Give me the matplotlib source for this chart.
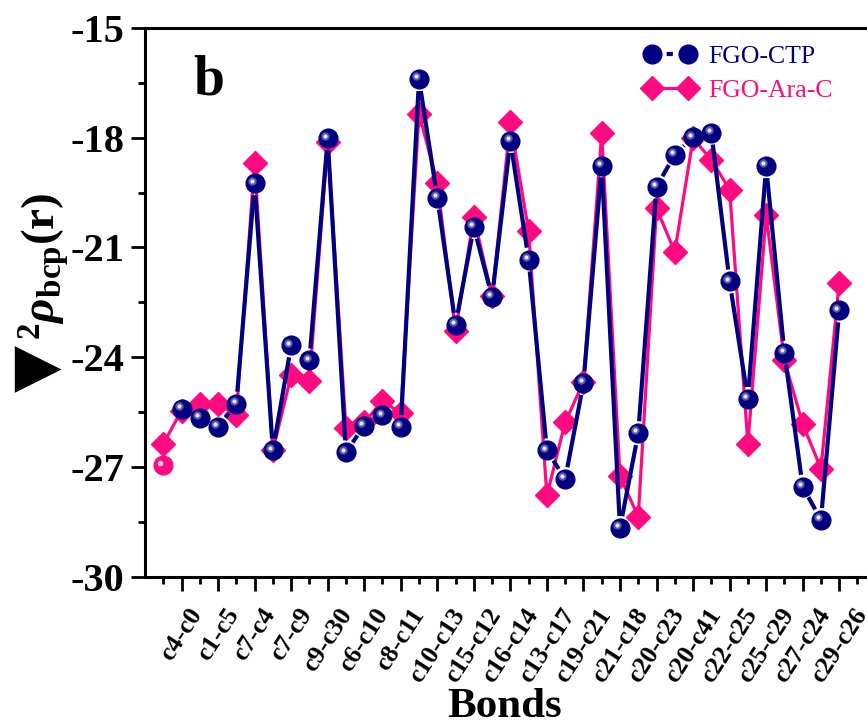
import numpy as np
import matplotlib.pyplot as plt
from matplotlib.transforms import ScaledTranslation
from matplotlib.lines import Line2D

# bond labels (every second point carries a label)
bonds = ['c4-c0', 'c1-c5', 'c7-c4', 'c7-c9', 'c9-c30', 'c6-c10', 'c8-c11',
         'c10-c13', 'c15-c12', 'c16-c14', 'c13-c17', 'c19-c21', 'c21-c18',
         'c20-c23', 'c20-c41', 'c22-c25', 'c25-c29', 'c27-c24', 'c29-c26']

# laplacian of rho at bcp
ctp = [-26.96, -25.41, -25.66, -25.91, -25.27, -19.25, -26.55, -23.68, -24.09, -18.02,
       -26.60, -25.87, -25.59, -25.91, -16.40, -19.64, -23.11, -20.44, -22.36, -18.09,
       -21.33, -26.55, -27.33, -24.71, -18.76, -28.67, -26.08, -19.34, -18.46, -17.99,
       -17.86, -21.93, -25.14, -18.78, -23.88, -27.54, -28.45, -22.72]
arac = [-26.37, -25.46, -25.27, -25.27, -25.59, -18.68, -26.55, -24.50, -24.65, -18.13,
        -25.94, -25.78, -25.20, -25.53, -17.34, -19.23, -23.28, -20.16, -22.34, -17.58,
        -20.55, -27.78, -25.78, -24.68, -17.88, -27.26, -28.36, -19.93, -21.12, -18.02,
        -18.60, -19.42, -26.37, -20.12, -24.09, -25.82, -27.05, -21.96]

navy = '#000080'
pink = '#FF0A80'

plt.rcParams['font.family'] = ['Liberation Serif', 'DejaVu Sans']
plt.rcParams['font.weight'] = 'bold'
plt.rcParams['mathtext.fontset'] = 'custom'
plt.rcParams['mathtext.rm'] = 'Liberation Serif'
plt.rcParams['mathtext.bf'] = 'Liberation Serif:bold'
plt.rcParams['mathtext.it'] = 'Liberation Serif:italic'
plt.rcParams['mathtext.bfit'] = 'Liberation Serif:italic:bold'

fig = plt.figure(figsize=(8.67, 7.25), dpi=100)
ax = fig.add_axes([0.1672, 0.2046, 0.8429, 0.7568])

x = np.arange(1, len(ctp) + 1)

ax.set_xlim(0, 40)
ax.set_ylim(-30, -15)

ax.plot(x, arac, color=pink, lw=2.3, marker='D', ms=12.5, mec=pink, zorder=2)

# CTP line is drawn with a gap around each symbol (as in the original)
gap = 12
pts = ax.transData.transform(np.column_stack([x, ctp]))
inv = ax.transData.inverted()
for k in range(1, len(x) - 1):
    p, q = pts[k], pts[k + 1]
    d = q - p
    L = np.hypot(d[0], d[1])
    if L > 2 * gap:
        u = d / L
        seg = inv.transform(np.array([p + gap * u, q - gap * u]))
        ax.plot(seg[:, 0], seg[:, 1], color=navy, lw=3, solid_capstyle='butt', zorder=3)

ax.plot(x[1:], ctp[1:], ls='none', marker='o', ms=13.5, color=navy, zorder=3)
ax.plot(x[:1], ctp[:1], ls='none', marker='o', ms=13.5, color=pink, zorder=3)

# small highlight to give the balls a shaded look
shift = ax.transData + ScaledTranslation(-2 / 72, 2 / 72, fig.dpi_scale_trans)
ax.plot(x[1:], ctp[1:], ls='none', marker='o', ms=6, color='#5a5aa8', mew=0,
        transform=shift, zorder=4)
ax.plot(x[1:], ctp[1:], ls='none', marker='o', ms=3, color='#e8e8ff', mew=0,
        transform=shift, zorder=5)
ax.plot(x[:1], ctp[:1], ls='none', marker='o', ms=4, color='#ffd0e6', mew=0,
        transform=shift, zorder=5)

ax.set_yticks(np.arange(-30, -14, 3))
ax.set_yticks(np.arange(-28.5, -15, 3), minor=True)
ax.set_xticks(np.arange(2, 2 * len(bonds) + 1, 2))
ax.set_xticklabels(bonds, rotation=57, ha='center', va='top', fontsize=18.5,
                   fontweight='bold')
ax.set_xticks(np.arange(1, 40, 2), minor=True)
ax.set_yticklabels([str(v) for v in range(-30, -14, 3)], fontsize=29,
                   fontweight='bold')
ax.tick_params(axis='y', which='major', length=10, width=2, pad=5)
ax.tick_params(axis='y', which='minor', length=5, width=2)
ax.tick_params(axis='x', which='major', length=10, width=2, pad=10)
ax.tick_params(axis='x', which='minor', length=5, width=2)
for s in ax.spines.values():
    s.set_linewidth(2.2)

fig.text(505 / 867, 8 / 725, 'Bonds', fontsize=31, fontweight='bold',
         ha='center', va='baseline')

fig.text(38 / 867, 1 - 368 / 725, '\u25bc', rotation=90, fontsize=44,
         family='DejaVu Sans', ha='center', va='center')
fig.text(44 / 867, 1 - 266 / 725,
         r'$^{\mathbf{2}}\mathbfit{\rho}_{\mathbf{bcp}}\mathbf{(r)}$',
         rotation=90, fontsize=34, ha='center', va='center')

ax.text(0.087, 0.905, 'b', transform=ax.transAxes, fontsize=40, fontweight='bold',
        ha='center', va='center')

h1 = Line2D([], [], color=navy, lw=3, marker='o', ms=13.5,
            ls=(0, (0.01, 3.5, 1.5, 40)), dash_capstyle='butt')
h2 = Line2D([], [], color=pink, lw=2.3, marker='D', ms=12.5)
leg = ax.legend([h1, h2], ['FGO-CTP', 'FGO-Ara-C'], loc='upper left',
                bbox_to_anchor=(644 / 867, 1 - 45 / 725), bbox_transform=fig.transFigure,
                frameon=False, numpoints=2, handlelength=2.0, handletextpad=0.5,
                labelspacing=0.42, borderaxespad=0, borderpad=0,
                prop={'family': 'Liberation Serif', 'weight': 'normal', 'size': 18.5},
                labelcolor='linecolor')

fig.savefig('out.png', dpi=100)
